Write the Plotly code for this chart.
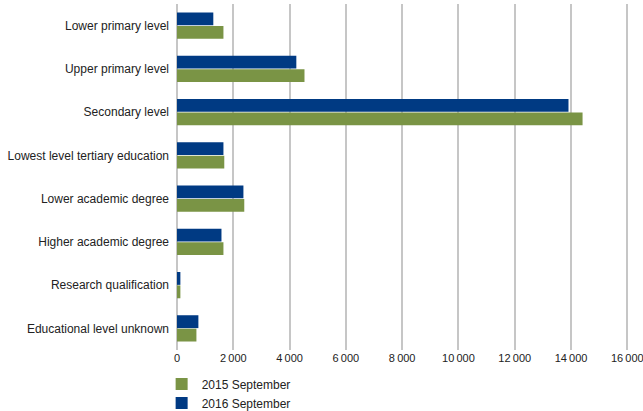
import plotly.graph_objects as go

categories = [
    "Lower primary level",
    "Upper primary level",
    "Secondary level",
    "Lowest level tertiary education",
    "Lower academic degree",
    "Higher academic degree",
    "Research qualification",
    "Educational level unknown",
]
values_2015 = [1650, 4530, 14410, 1680, 2390, 1650, 120, 690]
values_2016 = [1290, 4240, 13910, 1650, 2360, 1580, 120, 760]
series_names = ["2015 September", "2016 September"]
x_ticks = [0, 2000, 4000, 6000, 8000, 10000, 12000, 14000, 16000]

GREEN = "#7a9445"
BLUE = "#003a83"

fig = go.Figure()
fig.add_trace(go.Bar(
    y=categories, x=values_2015, name=series_names[0], orientation="h",
    marker=dict(color=GREEN, line=dict(width=0)),
))
fig.add_trace(go.Bar(
    y=categories, x=values_2016, name=series_names[1], orientation="h",
    marker=dict(color=BLUE, line=dict(width=0)),
))

fig.update_layout(
    width=643, height=411,
    margin=dict(l=177, r=14, t=4, b=61, autoexpand=False),
    paper_bgcolor="white", plot_bgcolor="white",
    font=dict(family="Liberation Sans, Arial, sans-serif", size=12, color="#222222"),
    barmode="group", bargap=0.38, bargroupgap=0.04,
    separators=".\u2009",
    showlegend=True,
    legend=dict(
        orientation="v", x=-0.034, xanchor="left", y=-0.056, yanchor="top",
        font=dict(size=12, color="#222222"), tracegroupgap=0,
        itemwidth=30, bgcolor="rgba(0,0,0,0)",
    ),
    xaxis=dict(
        range=[0, 16060], tickvals=x_ticks, tickformat=",d", automargin=False,
        showgrid=True, gridcolor="#c6c6c6", gridwidth=1.5,
        zeroline=True, zerolinecolor="#c6c6c6", zerolinewidth=1.5,
        showline=False, ticks="", ticklabeloverflow="allow",
        tickfont=dict(size=11, color="#222222"),
    ),
    yaxis=dict(
        categoryorder="array", categoryarray=categories[::-1], automargin=False,
        showgrid=False, zeroline=False, showline=False, ticks="",
        ticklabelstandoff=7, tickfont=dict(size=12, color="#222222"),
    ),
)

fig.write_html(
    "out.html",
    config={"displayModeBar": False},
    post_script="document.body.style.margin='0';document.body.style.overflow='hidden';",
)
